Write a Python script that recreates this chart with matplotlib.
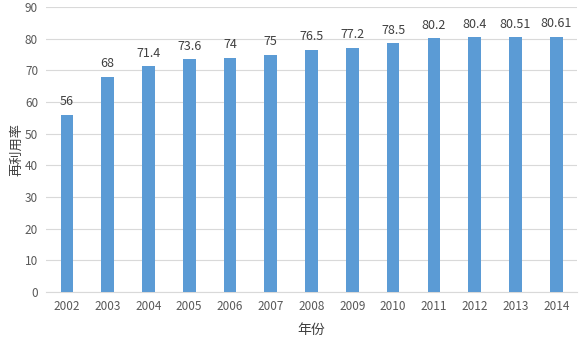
import matplotlib.pyplot as plt

plt.rcParams['font.family'] = ['Noto Sans CJK SC', 'DejaVu Sans']

years = ['2002', '2003', '2004', '2005', '2006', '2007', '2008',
         '2009', '2010', '2011', '2012', '2013', '2014']
rates = [56, 68, 71.4, 73.6, 74, 75, 76.5, 77.2, 78.5, 80.2, 80.4, 80.51, 80.61]
rate_labels = ['56', '68', '71.4', '73.6', '74', '75', '76.5',
               '77.2', '78.5', '80.2', '80.4', '80.51', '80.61']

fig = plt.figure(figsize=(5.84, 3.51), dpi=100)
ax = fig.add_axes([0.0795, 0.168, 0.908, 0.812])

x = range(len(years))
bars = ax.bar(x, rates, width=0.31, color='#5B9BD5', zorder=3)
for b, lab in zip(bars, rate_labels):
    ax.text(b.get_x() + b.get_width() / 2, b.get_height() + 2, lab,
            ha='center', va='bottom', fontsize=9, color='#404040')

ax.set_xlim(-0.5, len(years) - 0.5)
ax.set_ylim(0, 90)
ax.set_yticks(range(0, 91, 10))
ax.set_xticks(list(x))
ax.set_xticklabels(years)
ax.tick_params(axis='both', length=0, labelsize=8.5, colors='#595959', pad=6)
ax.grid(axis='y', color='#D9D9D9', linewidth=0.8, zorder=0)
for s in ['top', 'right', 'left']:
    ax.spines[s].set_visible(False)
ax.spines['bottom'].set_color('#D9D9D9')

ax.set_xlabel('年份', fontsize=10, color='#404040', labelpad=7)
ax.set_ylabel('再利用率', fontsize=9.5, color='#404040')
ax.yaxis.set_label_coords(-0.044, 0.5)

fig.savefig('out.png')
